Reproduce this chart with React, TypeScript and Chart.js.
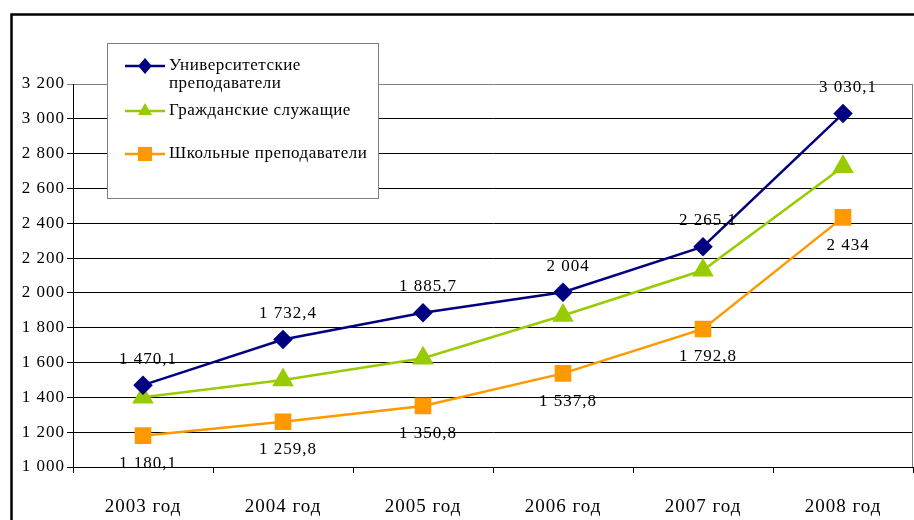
import React, { useEffect, useRef } from 'react';
import { Chart, registerables } from 'chart.js';

Chart.register(...registerables);

const categories = ['2003 год', '2004 год', '2005 год', '2006 год', '2007 год', '2008 год'];
const universityTeachers = [1470.1, 1732.4, 1885.7, 2004, 2265.1, 3030.1];
const civilServants = [1400, 1500, 1625, 1870, 2130, 2725];
const schoolTeachers = [1180.1, 1259.8, 1350.8, 1537.8, 1792.8, 2434];
const seriesNames = [['Университетские', 'преподаватели'], ['Гражданские служащие'], ['Школьные преподаватели']];
const seriesColors = ['#000080', '#99CC00', '#FF9900'];
const yMin = 1000;
const yMax = 3200;
const yStep = 200;

const FONT = '"Liberation Serif", "Times New Roman", serif';

function fmt(v: number): string {
  const s = (Math.round(v * 10) / 10).toString();
  const [i, d] = s.split('.');
  const grouped = i.replace(/\B(?=(\d{3})+(?!\d))/g, ' ');
  return d ? grouped + ',' + d : grouped;
}

function drawMarker(ctx: CanvasRenderingContext2D, style: string, x: number, y: number, r: number, color: string) {
  ctx.save();
  ctx.fillStyle = color;
  ctx.beginPath();
  if (style === 'rectRot') {
    ctx.moveTo(x, y - r);
    ctx.lineTo(x + r * 0.85, y);
    ctx.lineTo(x, y + r);
    ctx.lineTo(x - r * 0.85, y);
  } else if (style === 'triangle') {
    ctx.moveTo(x, y - r);
    ctx.lineTo(x + r * 0.87, y + r * 0.5);
    ctx.lineTo(x - r * 0.87, y + r * 0.5);
  } else {
    const h = r * Math.SQRT1_2;
    ctx.rect(x - h, y - h, 2 * h, 2 * h);
  }
  ctx.closePath();
  ctx.fill();
  ctx.restore();
}

const spacingPlugin = {
  id: 'letterSpacing',
  beforeUpdate(chart: any) {
    (chart.ctx as any).letterSpacing = '1px';
  },
  beforeDraw(chart: any) {
    (chart.ctx as any).letterSpacing = '1px';
  },
};

const resetSpacingPlugin = {
  id: 'resetSpacing',
  afterDatasetsDraw(chart: any) {
    (chart.ctx as any).letterSpacing = '0px';
  },
};

const framePlugin = {
  id: 'frame',
  beforeDraw(chart: any) {
    const ctx = chart.ctx;
    ctx.save();
    ctx.fillStyle = '#fff';
    ctx.fillRect(0, 0, chart.width, chart.height);
    ctx.strokeStyle = '#000';
    ctx.lineWidth = 2.5;
    ctx.strokeRect(11.5, 14.5, chart.width + 20, chart.height + 20);
    ctx.restore();
  },
  beforeDatasetsDraw(chart: any) {
    const { ctx, chartArea } = chart;
    ctx.save();
    ctx.strokeStyle = '#808080';
    ctx.lineWidth = 1;
    ctx.beginPath();
    ctx.moveTo(chartArea.right - 0.5, chartArea.top);
    ctx.lineTo(chartArea.right - 0.5, chartArea.bottom);
    ctx.stroke();
    ctx.restore();
  },
};

const valueLabelPlugin = {
  id: 'valueLabels',
  afterDatasetsDraw(chart: any) {
    const ctx = chart.ctx;
    ctx.save();
    (ctx as any).letterSpacing = '1px';
    ctx.font = `17px ${FONT}`;
    ctx.fillStyle = '#000';
    ctx.textAlign = 'center';
    ctx.textBaseline = 'middle';
    chart.data.datasets.forEach((ds: any, di: number) => {
      if (!ds.labelPos) return;
      const meta = chart.getDatasetMeta(di);
      meta.data.forEach((pt: any, i: number) => {
        const dy = ds.labelPos === 'above' ? -26 : 28;
        ctx.fillText(fmt(ds.data[i]), pt.x + 5, pt.y + dy);
      });
    });
    ctx.restore();
  },
};

const legendPlugin = {
  id: 'boxLegend',
  afterDatasetsDraw(chart: any) {
    const ctx = chart.ctx;
    const bx = 107, by = 43, bw = 271, bh = 155;
    ctx.save();
    ctx.fillStyle = '#fff';
    ctx.fillRect(bx, by, bw, bh);
    ctx.strokeStyle = '#808080';
    ctx.lineWidth = 1;
    ctx.strokeRect(bx + 0.5, by + 0.5, bw, bh);
    const rows = [66, 111, 154];
    chart.data.datasets.forEach((ds: any, di: number) => {
      const y = rows[di];
      ctx.strokeStyle = ds.borderColor;
      ctx.lineWidth = 2.5;
      ctx.beginPath();
      ctx.moveTo(125, y);
      ctx.lineTo(165, y);
      ctx.stroke();
      drawMarker(ctx, ds.pointStyle, 145, y, ds.pointStyle === 'rect' ? 10 : 8, ds.borderColor);
      ctx.fillStyle = '#000';
      (ctx as any).letterSpacing = '0.5px';
      ctx.font = `17px ${FONT}`;
      ctx.textAlign = 'left';
      ctx.textBaseline = 'middle';
      seriesNames[di].forEach((line, li) => {
        ctx.fillText(line, 169, y + li * 18);
      });
    });
    ctx.restore();
  },
};

export default function App() {
  const ref = useRef<HTMLCanvasElement>(null);
  useEffect(() => {
    if (!ref.current) return;
    const chart = new Chart(ref.current, {
      type: 'line',
      data: {
        labels: categories,
        datasets: [
          {
            label: seriesNames[0].join(' '),
            data: universityTeachers,
            borderColor: seriesColors[0],
            backgroundColor: seriesColors[0],
            pointStyle: 'rectRot',
            pointRadius: 8,
            borderWidth: 2.5,
            labelPos: 'above',
          } as any,
          {
            label: seriesNames[1].join(' '),
            data: civilServants,
            borderColor: seriesColors[1],
            backgroundColor: seriesColors[1],
            pointStyle: 'triangle',
            pointRadius: 10,
            borderWidth: 2.5,
          } as any,
          {
            label: seriesNames[2].join(' '),
            data: schoolTeachers,
            borderColor: seriesColors[2],
            backgroundColor: seriesColors[2],
            pointStyle: 'rect',
            pointRadius: 10,
            borderWidth: 2.5,
            labelPos: 'below',
          } as any,
        ],
      },
      options: {
        animation: false,
        responsive: false,
        maintainAspectRatio: false,
        layout: { autoPadding: false, padding: { top: 84, right: 1, left: 0, bottom: 0 } },
        elements: { line: { tension: 0 }, point: { borderWidth: 0 } },
        plugins: { legend: { display: false }, tooltip: { enabled: false } },
        scales: {
          x: {
            type: 'category',
            offset: true,
            z: 1,
            grid: { drawOnChartArea: false, drawTicks: true, tickLength: 6, color: '#000', offset: true },
            border: { color: '#000', width: 1 },
            ticks: { color: '#000', font: { family: FONT, size: 19 }, padding: 23, maxRotation: 0 },
            afterFit: (s: any) => {
              s.height = 53;
              s.paddingLeft = 0;
              s.paddingRight = 0;
            },
          },
          y: {
            min: yMin,
            max: yMax,
            grid: {
              color: (c: any) => (c.tick && c.tick.value === yMax ? '#808080' : '#000'),
              tickLength: 6,
              lineWidth: 1,
            },
            border: { color: '#000', width: 1 },
            ticks: {
              stepSize: yStep,
              color: '#000',
              font: { family: FONT, size: 17 },
              padding: 2,
              callback: (v: any) => fmt(Number(v)),
            },
            afterFit: (s: any) => {
              s.width = 73;
            },
          },
        },
      } as any,
      plugins: [spacingPlugin, framePlugin, valueLabelPlugin, legendPlugin, resetSpacingPlugin],
    });
    return () => chart.destroy();
  }, []);
  return (
    <div style={{ position: 'fixed', left: 0, top: 0, width: 914, height: 520 }}>
      <canvas ref={ref} width={914} height={520} style={{ width: 914, height: 520 }} />
    </div>
  );
}
